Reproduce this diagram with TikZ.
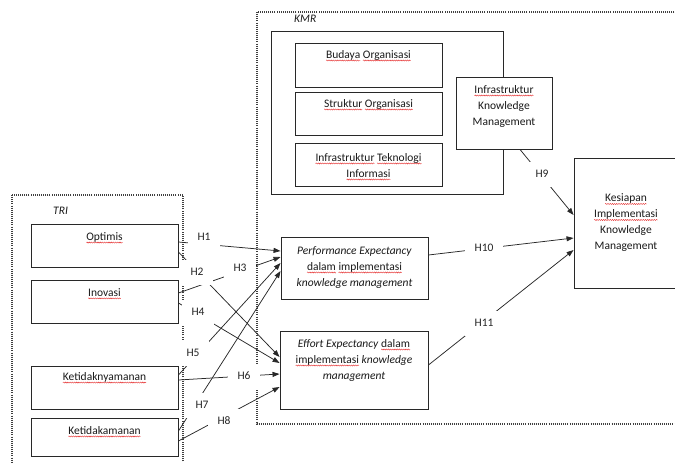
\documentclass[tikz,border=0pt]{standalone}
\usepackage{fontspec}
\setmainfont{Carlito}
\usetikzlibrary{arrows.meta,decorations.pathmorphing}
\definecolor{sqred}{RGB}{228,40,40}
\definecolor{lncol}{RGB}{40,40,40}
\newcommand\spl[1]{\tikz[baseline=(w.base)]{\node[inner sep=0pt,outer sep=0pt,anchor=base,draw=none,fill=none](w){#1};\draw[overlay,sqred,line width=0.4pt,decorate,decoration={snake,amplitude=0.55pt,segment length=2.2pt}]([yshift=-2pt]w.base west)--([yshift=-2pt]w.base east);}}
\begin{document}
\begin{tikzpicture}[x=1pt,y=-1pt,
  box/.style={draw=lncol,line width=0.9pt,inner sep=0pt},
  txt/.style={font=\fontsize{11.5}{16}\selectfont,align=center,inner sep=0pt,text=black!90},
  grp/.style={font=\fontsize{11.5}{14}\selectfont\itshape,inner sep=0pt,anchor=west,text=black!90},
  hl/.style={fill=white,font=\fontsize{11.5}{14}\selectfont,inner sep=0pt,minimum width=32pt,minimum height=25pt,text=black!85},
  dotf/.style={draw=black!75,line width=1.2pt,dash pattern=on 1pt off 1.1pt},
  arr/.style={draw=lncol,line width=0.75pt,-{Triangle[length=7pt,width=5pt]}}]
\useasboundingbox (0,0) rectangle (675,463);
% group frames
\draw[dotf] (257,12) rectangle (690,424);
\draw[dotf] (12,195) rectangle (183,480);
\node[grp] (kmrlab) at (294,19) {KMR};
\node[grp] (trilab) at (53,211) {TRI};
% boxes
\node[box,minimum width=232pt,minimum height=163pt] (kmrin) at (387,112.5) {};
\node[box,minimum width=147pt,minimum height=44pt] (budaya) at (368.5,65) {};
\node[box,minimum width=147pt,minimum height=43pt] (struktur) at (368.5,113.5) {};
\node[box,minimum width=147pt,minimum height=43pt] (iti) at (368.5,164.5) {};
\node[box,fill=white,minimum width=96pt,minimum height=72pt] (ikm) at (504,113) {};
\node[box,minimum width=104pt,minimum height=130pt] (kes) at (626,223) {};
\node[box,minimum width=147pt,minimum height=62pt] (pe) at (354.5,268) {};
\node[box,minimum width=148pt,minimum height=78pt] (ee) at (354,370) {};
\node[box,minimum width=147pt,minimum height=43pt] (optimis) at (104.5,245.5) {};
\node[box,minimum width=147pt,minimum height=43pt] (inovasi) at (104.5,301.5) {};
\node[box,minimum width=147pt,minimum height=43pt] (ketn) at (104.5,387.5) {};
\node[box,minimum width=147pt,minimum height=38pt] (keta) at (104.5,437) {};
% texts
\node[txt] (budaya-t) at (368.5,55.5) {\spl{Budaya} \spl{Organisasi}};
\node[txt] (struktur-t) at (368.5,104.5) {\spl{Struktur} \spl{Organisasi}};
\node[txt] (iti-t) at (368.5,165.5) {\spl{Infrastruktur} \spl{Teknologi}\\\spl{Informasi}};
\node[txt] (ikm-t) at (504,106.5) {\spl{Infrastruktur}\\Knowledge\\Management};
\node[txt] (kes-t) at (626,223) {\spl{Kesiapan}\\\spl{Implementasi}\\Knowledge\\Management};
\node[txt] (pe-t) at (354.5,267.5) {\textit{Performance Expectancy}\\\spl{dalam} \spl{implementasi}\\\textit{knowledge management}};
\node[txt] (ee-t) at (354,360.5) {\textit{Effort Expectancy} \spl{dalam}\\\spl{implementasi} \textit{knowledge}\\\textit{management}};
\node[txt] (optimis-t) at (104.5,237.5) {\spl{Optimis}};
\node[txt] (inovasi-t) at (104.5,292.5) {\spl{Inovasi}};
\node[txt] (ketn-t) at (104.5,377.5) {\spl{Ketidaknyamanan}};
\node[txt] (keta-t) at (104.5,430.5) {\spl{Ketidakamanan}};
% connectors
\draw[arr] ([yshift=3.5pt]optimis.east) -- ([yshift=17pt]pe.west);
\draw[arr] ([yshift=-6.5pt]optimis.east) -- ([yshift=13pt]ee.west);
\draw[arr] ([yshift=8.5pt]inovasi.east) -- ([yshift=11pt]pe.west);
\draw[arr] ([yshift=-1.5pt]inovasi.east) -- ([yshift=7pt]ee.west);
\draw[arr] ([yshift=12.5pt]ketn.east) -- ([yshift=5pt]pe.west);
\draw[arr] ([yshift=7.5pt]ketn.east) -- ([yshift=-4pt]ee.west);
\draw[arr] ([yshift=6pt]keta.east) -- ([yshift=-3pt]pe.west);
\draw[arr] ([yshift=-4pt]keta.east) -- ([yshift=-17pt]ee.west);
\draw[arr] ([xshift=16pt]ikm.south) -- ([yshift=8pt]kes.west);
\draw[arr] ([yshift=13pt]pe.east) -- ([yshift=-15pt]kes.west);
\draw[arr] ([yshift=5pt]ee.east) -- ([yshift=-27pt]kes.west);
% labels
\node[hl] (h1) at (204,237) {H1};
\node[hl] (h2) at (197,272) {H2};
\node[hl] (h3) at (240,268) {H3};
\node[hl] (h4) at (198,312) {H4};
\node[hl] (h5) at (193,353) {H5};
\node[hl] (h6) at (244,376) {H6};
\node[hl] (h7) at (202,405) {H7};
\node[hl] (h8) at (224,421) {H8};
\node[hl] (h9) at (542,174) {H9};
\node[hl,minimum width=38pt] (h10) at (484,248) {H10};
\node[hl,minimum width=38pt] (h11) at (484,323) {H11};
\end{tikzpicture}
\end{document}
